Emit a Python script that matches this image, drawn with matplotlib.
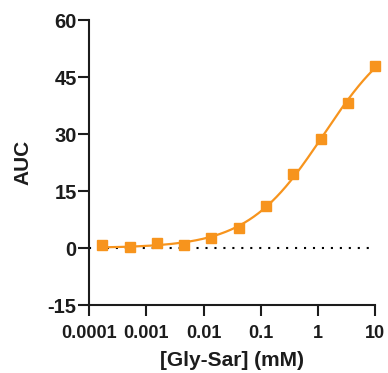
import numpy as np
import matplotlib
matplotlib.use('Agg')
import matplotlib.pyplot as plt

plt.rcParams['font.family'] = ['Liberation Sans', 'DejaVu Sans']
plt.rcParams['font.weight'] = 'bold'
plt.rcParams['axes.unicode_minus'] = False

# ── data ──────────────────────────────────────────────────────────────────
conc_mM = [0.000169, 0.000508, 0.00152, 0.00457, 0.0137, 0.0412,
           0.123, 0.370, 1.11, 3.33, 10.0]
auc = [0.8, 0.4, 1.4, 0.7, 2.6, 5.2, 11.0, 19.6, 28.6, 38.2, 47.9]
xticks = [0.0001, 0.001, 0.01, 0.1, 1, 10]
xticklabels = ['0.0001', '0.001', '0.01', '0.1', '1', '10']
yticks = [-15, 0, 15, 30, 45, 60]

ORANGE = '#F7941D'
INK = '#1c1c1c'

# ── 4-parameter logistic fit via grid search (B, T solved linearly) ───────
lx = np.log10(conc_mM)
y = np.array(auc)
best = None
for logec in np.linspace(-2, 3, 251):
    for h in np.linspace(0.2, 1.5, 131):
        f = 1.0 / (1.0 + 10 ** ((logec - lx) * h))
        A = np.column_stack([1 - f, f])
        coef, *_ = np.linalg.lstsq(A, y, rcond=None)
        sse = np.sum((A @ coef - y) ** 2)
        if best is None or sse < best[0]:
            best = (sse, logec, h, coef)
_, logec, h, (bottom, top) = best
xs = np.logspace(lx.min(), lx.max(), 300)
ys = bottom + (top - bottom) / (1 + 10 ** ((logec - np.log10(xs)) * h))

# ── plot ──────────────────────────────────────────────────────────────────
fig = plt.figure(figsize=(3.88, 3.73), dpi=100)
ax = fig.add_axes([0.230, 0.182, 0.737, 0.764])

ax.axhline(0, color='black', lw=1.5, linestyle=(0, (1, 3.3)), zorder=1)
ax.plot(xs, ys, color=ORANGE, lw=1.6, zorder=2, clip_on=False)
ax.plot(conc_mM, auc, 's', color=ORANGE, markersize=7.5, zorder=3, clip_on=False)

ax.set_xscale('log')
ax.set_xlim(0.0001, 10)
ax.set_ylim(-15, 60)
ax.set_xticks(xticks)
ax.set_xticklabels(xticklabels)
ax.xaxis.set_minor_locator(matplotlib.ticker.NullLocator())
ax.set_yticks(yticks)

for side in ['top', 'right']:
    ax.spines[side].set_visible(False)
for side in ['left', 'bottom']:
    ax.spines[side].set_linewidth(1.5)
    ax.spines[side].set_color(INK)

ax.tick_params(axis='both', length=8, width=1.5, direction='out', color=INK)
ax.tick_params(axis='x', labelsize=13, pad=6)
ax.tick_params(axis='y', labelsize=14.5, pad=1)
for lab in ax.get_xticklabels() + ax.get_yticklabels():
    lab.set_fontweight('bold')
    lab.set_color(INK)

ax.set_xlabel('[Gly-Sar] (mM)', fontsize=15, fontweight='bold', color=INK, labelpad=7)
ax.set_ylabel('AUC', fontsize=15, fontweight='bold', color=INK, labelpad=11)

fig.savefig('out.png', dpi=100)
